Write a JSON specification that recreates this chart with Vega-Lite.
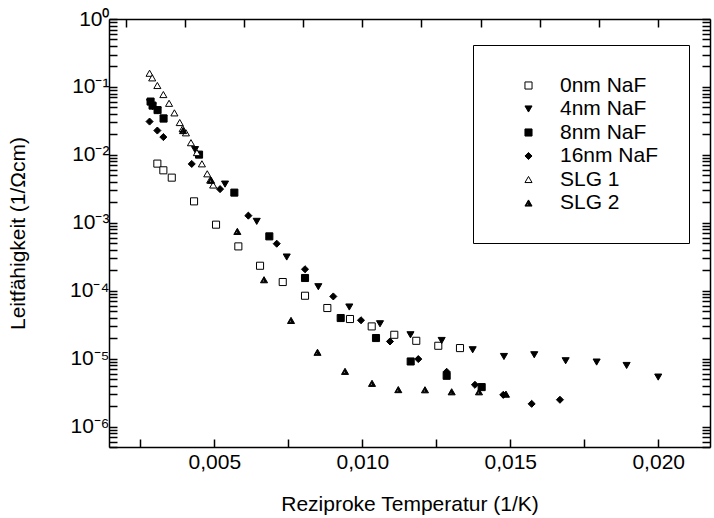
{
  "$schema": "https://vega.github.io/schema/vega-lite/v6.json",
  "width": 601,
  "height": 428,
  "autosize": {"type": "none"},
  "padding": {"left": 109, "top": 19, "right": 4, "bottom": 71},
  "background": "white",
  "config": {
    "view": {"stroke": null},
    "font": "Liberation Sans",
    "axis": {
      "grid": false,
      "domainColor": "black",
      "domainWidth": 1.5,
      "tickColor": "black",
      "tickWidth": 1.5,
      "labelColor": "black",
      "labelFont": "Liberation Sans",
      "labelFontSize": 21,
      "titleFont": "Liberation Sans",
      "titleFontSize": 21,
      "titleFontWeight": "normal",
      "titleColor": "black"
    }
  },
  "data": {
    "values": [
      {"s": "0nm NaF", "x": 0.003074, "y": 0.00743},
      {"s": "0nm NaF", "x": 0.003277, "y": 0.00592},
      {"s": "0nm NaF", "x": 0.003561, "y": 0.00462},
      {"s": "0nm NaF", "x": 0.004314, "y": 0.002067},
      {"s": "0nm NaF", "x": 0.005057, "y": 0.000938},
      {"s": "0nm NaF", "x": 0.005811, "y": 0.000449},
      {"s": "0nm NaF", "x": 0.006544, "y": 0.000233},
      {"s": "0nm NaF", "x": 0.007311, "y": 0.0001342},
      {"s": "0nm NaF", "x": 0.008064, "y": 0.0000843},
      {"s": "0nm NaF", "x": 0.008818, "y": 0.0000556},
      {"s": "0nm NaF", "x": 0.009584, "y": 0.0000383},
      {"s": "0nm NaF", "x": 0.010318, "y": 0.0000298},
      {"s": "0nm NaF", "x": 0.011081, "y": 0.00002245},
      {"s": "0nm NaF", "x": 0.011824, "y": 0.0000183},
      {"s": "0nm NaF", "x": 0.012568, "y": 0.00001546},
      {"s": "0nm NaF", "x": 0.013301, "y": 0.0000143},
      {"s": "4nm NaF", "x": 0.002828, "y": 0.0588},
      {"s": "4nm NaF", "x": 0.002912, "y": 0.0514},
      {"s": "4nm NaF", "x": 0.003081, "y": 0.0448},
      {"s": "4nm NaF", "x": 0.003284, "y": 0.0348},
      {"s": "4nm NaF", "x": 0.004348, "y": 0.01194},
      {"s": "4nm NaF", "x": 0.005361, "y": 0.00371},
      {"s": "4nm NaF", "x": 0.006432, "y": 0.001049},
      {"s": "4nm NaF", "x": 0.007446, "y": 0.000313},
      {"s": "4nm NaF", "x": 0.008514, "y": 0.0001144},
      {"s": "4nm NaF", "x": 0.009561, "y": 0.0000575},
      {"s": "4nm NaF", "x": 0.010598, "y": 0.0000326},
      {"s": "4nm NaF", "x": 0.011628, "y": 0.00002245},
      {"s": "4nm NaF", "x": 0.012682, "y": 0.0000185},
      {"s": "4nm NaF", "x": 0.01373, "y": 0.0000135},
      {"s": "4nm NaF", "x": 0.014787, "y": 0.00001075},
      {"s": "4nm NaF", "x": 0.015811, "y": 0.0000114},
      {"s": "4nm NaF", "x": 0.016872, "y": 0.0000093},
      {"s": "4nm NaF", "x": 0.017919, "y": 0.0000089},
      {"s": "4nm NaF", "x": 0.018932, "y": 0.00000793},
      {"s": "4nm NaF", "x": 0.02, "y": 0.00000535},
      {"s": "8nm NaF", "x": 0.002845, "y": 0.0609},
      {"s": "8nm NaF", "x": 0.002912, "y": 0.0531},
      {"s": "8nm NaF", "x": 0.003081, "y": 0.0456},
      {"s": "8nm NaF", "x": 0.003284, "y": 0.0342},
      {"s": "8nm NaF", "x": 0.004483, "y": 0.01008},
      {"s": "8nm NaF", "x": 0.005676, "y": 0.00278},
      {"s": "8nm NaF", "x": 0.006858, "y": 0.000631},
      {"s": "8nm NaF", "x": 0.008064, "y": 0.0001538},
      {"s": "8nm NaF", "x": 0.00927, "y": 0.0000396},
      {"s": "8nm NaF", "x": 0.010463, "y": 0.0000201},
      {"s": "8nm NaF", "x": 0.011635, "y": 0.00000908},
      {"s": "8nm NaF", "x": 0.012851, "y": 0.00000559},
      {"s": "8nm NaF", "x": 0.014034, "y": 0.00000381},
      {"s": "16nm NaF", "x": 0.002811, "y": 0.0309},
      {"s": "16nm NaF", "x": 0.003074, "y": 0.0228},
      {"s": "16nm NaF", "x": 0.003277, "y": 0.01826},
      {"s": "16nm NaF", "x": 0.004236, "y": 0.00735},
      {"s": "16nm NaF", "x": 0.005193, "y": 0.00313},
      {"s": "16nm NaF", "x": 0.006149, "y": 0.001273},
      {"s": "16nm NaF", "x": 0.007108, "y": 0.000492},
      {"s": "16nm NaF", "x": 0.008064, "y": 0.000207},
      {"s": "16nm NaF", "x": 0.00902, "y": 0.0000823},
      {"s": "16nm NaF", "x": 0.009956, "y": 0.0000367},
      {"s": "16nm NaF", "x": 0.010936, "y": 0.0000179},
      {"s": "16nm NaF", "x": 0.011892, "y": 0.00000985},
      {"s": "16nm NaF", "x": 0.012851, "y": 0.0000064},
      {"s": "16nm NaF", "x": 0.013807, "y": 0.00000412},
      {"s": "16nm NaF", "x": 0.014764, "y": 0.00000293},
      {"s": "16nm NaF", "x": 0.015723, "y": 0.00000216},
      {"s": "16nm NaF", "x": 0.016679, "y": 0.00000248},
      {"s": "SLG 1", "x": 0.002811, "y": 0.159},
      {"s": "SLG 1", "x": 0.0029, "y": 0.136},
      {"s": "SLG 1", "x": 0.003074, "y": 0.105},
      {"s": "SLG 1", "x": 0.003277, "y": 0.0772},
      {"s": "SLG 1", "x": 0.00347, "y": 0.0574},
      {"s": "SLG 1", "x": 0.00365, "y": 0.0415},
      {"s": "SLG 1", "x": 0.00383, "y": 0.0299},
      {"s": "SLG 1", "x": 0.00393, "y": 0.0244},
      {"s": "SLG 1", "x": 0.00404, "y": 0.0211},
      {"s": "SLG 1", "x": 0.00421, "y": 0.0151},
      {"s": "SLG 1", "x": 0.00441, "y": 0.0108},
      {"s": "SLG 1", "x": 0.00458, "y": 0.00738},
      {"s": "SLG 1", "x": 0.00476, "y": 0.00526},
      {"s": "SLG 1", "x": 0.00486, "y": 0.00426},
      {"s": "SLG 1", "x": 0.00496, "y": 0.0036},
      {"s": "SLG 2", "x": 0.003943, "y": 0.0228},
      {"s": "SLG 2", "x": 0.004889, "y": 0.00424},
      {"s": "SLG 2", "x": 0.005777, "y": 0.000747},
      {"s": "SLG 2", "x": 0.006679, "y": 0.0001451},
      {"s": "SLG 2", "x": 0.007591, "y": 0.0000365},
      {"s": "SLG 2", "x": 0.008486, "y": 0.0000124},
      {"s": "SLG 2", "x": 0.009416, "y": 0.0000065},
      {"s": "SLG 2", "x": 0.010328, "y": 0.00000433},
      {"s": "SLG 2", "x": 0.011216, "y": 0.0000035},
      {"s": "SLG 2", "x": 0.012118, "y": 0.00000348},
      {"s": "SLG 2", "x": 0.01302, "y": 0.00000325},
      {"s": "SLG 2", "x": 0.013943, "y": 0.00000325},
      {"s": "SLG 2", "x": 0.014855, "y": 0.000003}
    ]
  },
  "layer": [
    {
      "mark": {"type": "point", "filled": true, "strokeWidth": 1, "opacity": 1, "size": 50},
      "encoding": {
        "x": {
          "field": "x", "type": "quantitative",
          "scale": {"domain": [0.00144, 0.02175], "nice": false, "zero": false},
          "axis": {
            "orient": "bottom",
            "title": "Reziproke Temperatur (1/K)",
            "values": [0.0025, 0.005, 0.0075, 0.01, 0.0125, 0.015, 0.0175, 0.02],
            "labelExpr": "abs(datum.value*200 - round(datum.value*200)) < 0.001 ? replace(format(datum.value, '.3f'), '.', ',') : ''",
            "tickSize": -8,
            "labelPadding": 12,
            "titlePadding": 21,
            "labelFlush": false,
            "labelOverlap": false
          }
        },
        "y": {
          "field": "y", "type": "quantitative",
          "scale": {"type": "log", "domain": [5e-7, 1], "nice": false},
          "axis": {
            "orient": "left",
            "title": "Leitfähigkeit (1/Ωcm)",
            "values": [5e-7, 6e-7, 7e-7, 8e-7, 9e-7, 1e-6, 2e-6, 3e-6, 4e-6, 5e-6, 6e-6, 7e-6, 8e-6, 9e-6, 1e-5, 2e-5, 3e-5, 4e-5, 5e-5, 6e-5, 7e-5, 8e-5, 9e-5, 1e-4, 2e-4, 3e-4, 4e-4, 5e-4, 6e-4, 7e-4, 8e-4, 9e-4, 1e-3, 2e-3, 3e-3, 4e-3, 5e-3, 6e-3, 7e-3, 8e-3, 9e-3, 1e-2, 2e-2, 3e-2, 4e-2, 5e-2, 6e-2, 7e-2, 8e-2, 9e-2, 0.1, 0.2, 0.3, 0.4, 0.5, 0.6, 0.7, 0.8, 0.9, 1],
            "labelExpr": "abs(log(datum.value)/LN10 - round(log(datum.value)/LN10)) > 0.001 ? '' : round(log(datum.value)/LN10) == 0 ? '10⁰' : round(log(datum.value)/LN10) == -1 ? '10⁻¹' : round(log(datum.value)/LN10) == -2 ? '10⁻²' : round(log(datum.value)/LN10) == -3 ? '10⁻³' : round(log(datum.value)/LN10) == -4 ? '10⁻⁴' : round(log(datum.value)/LN10) == -5 ? '10⁻⁵' : '10⁻⁶'",
            "tickSize": -8,
            "labelPadding": 8,
            "titlePadding": 41,
            "labelFlush": false,
            "labelOverlap": false
          }
        },
        "shape": {
          "field": "s", "type": "nominal",
          "scale": {
            "domain": ["0nm NaF", "4nm NaF", "8nm NaF", "16nm NaF", "SLG 1", "SLG 2"],
            "range": ["square", "triangle-down", "square", "diamond", "triangle-up", "M0,-0.87L1,0.87L-1,0.87Z M-0.1,-0.4L-0.5,0.62L0.05,0.62Z"]
          },
          "legend": {
            "title": null, "orient": "none", "legendX": 364, "legendY": 26,
            "strokeColor": "black", "padding": 30,
            "labelFont": "Liberation Sans", "labelFontSize": 21, "labelColor": "black",
            "labelOffset": 21, "rowPadding": 1.5, "symbolOffset": 15, "symbolStrokeWidth": 1, "symbolSize": 50, "fillColor": "white"
          }
        },
        "fill": {
          "field": "s", "type": "nominal",
          "scale": {
            "domain": ["0nm NaF", "4nm NaF", "8nm NaF", "16nm NaF", "SLG 1", "SLG 2"],
            "range": ["white", "black", "black", "black", "white", "black"]
          },
          "legend": {
            "title": null, "orient": "none", "legendX": 364, "legendY": 26,
            "strokeColor": "black", "padding": 30,
            "labelFont": "Liberation Sans", "labelFontSize": 21, "labelColor": "black",
            "labelOffset": 21, "rowPadding": 1.5, "symbolOffset": 15, "symbolStrokeWidth": 1, "symbolSize": 50, "fillColor": "white"
          }
        },
        "stroke": {
          "field": "s", "type": "nominal",
          "scale": {
            "domain": ["0nm NaF", "4nm NaF", "8nm NaF", "16nm NaF", "SLG 1", "SLG 2"],
            "range": ["black", "black", "black", "black", "black", "black"]
          },
          "legend": {
            "title": null, "orient": "none", "legendX": 364, "legendY": 26,
            "strokeColor": "black", "padding": 30,
            "labelFont": "Liberation Sans", "labelFontSize": 21, "labelColor": "black",
            "labelOffset": 21, "rowPadding": 1.5, "symbolOffset": 15, "symbolStrokeWidth": 1, "symbolSize": 50, "fillColor": "white"
          }
        }
      }
    },
    {
      "mark": {"type": "point", "opacity": 0},
      "encoding": {
        "x": {
          "field": "x", "type": "quantitative",
          "axis": {
            "orient": "top", "title": null, "labels": false,
            "tickCount": 8,
            "tickSize": -8
          }
        },
        "y": {
          "field": "y", "type": "quantitative",
          "axis": {
            "orient": "right", "title": null, "labels": false,
            "tickSize": -8
          }
        }
      }
    }
  ],
  "resolve": {"axis": {"x": "independent", "y": "independent"}}
}
